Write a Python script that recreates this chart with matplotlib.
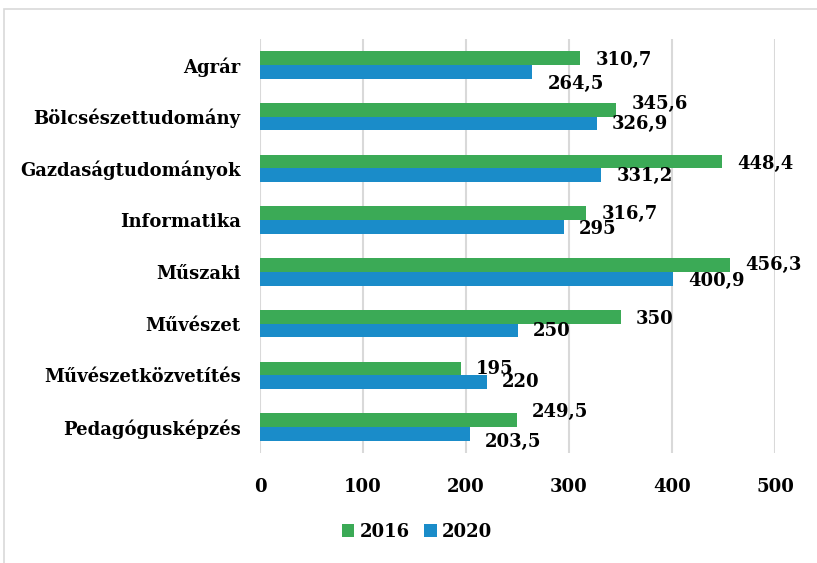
import matplotlib
matplotlib.use("Agg")
import matplotlib.pyplot as plt
import numpy as np
from matplotlib.patches import Rectangle

categories = ["Agrár", "Bölcsészettudomány", "Gazdaságtudományok", "Informatika",
              "Műszaki", "Művészet", "Művészetközvetítés", "Pedagógusképzés"]
values_2016 = [310.7, 345.6, 448.4, 316.7, 456.3, 350, 195, 249.5]
values_2020 = [264.5, 326.9, 331.2, 295, 400.9, 250, 220, 203.5]
labels_2016 = ["310,7", "345,6", "448,4", "316,7", "456,3", "350", "195", "249,5"]
labels_2020 = ["264,5", "326,9", "331,2", "295", "400,9", "250", "220", "203,5"]
xticks = [0, 100, 200, 300, 400, 500]

# label nudges (pixels, positive = down), the source labels were dragged by hand
dy_2016 = [2, -6, 2, 1, 0, 2, 0, -8]
dy_2020 = [12, 1, 1, 2, 2, 1, 0, 8]

GREEN = "#3BAA56"
BLUE = "#1A8CC9"
FONT = dict(family="DejaVu Serif", fontweight="bold", fontsize=13)

fig = plt.figure(figsize=(8.17, 5.63), dpi=100)
# light frame of the chart area (right and bottom edges run off the image)
fig.patches.append(Rectangle((4 / 817, -0.1), 1.2, 1 - 9 / 563 + 0.1,
                             transform=fig.transFigure, fill=False,
                             edgecolor="#d9d9d9", linewidth=1.2))
ax = fig.add_axes([260 / 817, 1 - 453 / 563, (775 - 260) / 817, (453 - 39) / 563])

y = np.arange(len(categories))
h = 0.265
ax.barh(y - h / 2, values_2016, height=h, color=GREEN, label="2016")
ax.barh(y + h / 2, values_2020, height=h, color=BLUE, label="2020")

for i in range(len(categories)):
    ax.annotate(labels_2016[i], (values_2016[i], y[i] - h / 2),
                xytext=(11, -dy_2016[i] * 0.72), textcoords="offset points",
                ha="left", va="center", **FONT)
    ax.annotate(labels_2020[i], (values_2020[i], y[i] + h / 2),
                xytext=(11, -dy_2020[i] * 0.72), textcoords="offset points",
                ha="left", va="center", **FONT)

ax.set_xlim(0, 500)
ax.set_ylim(len(categories) - 0.5, -0.5)
ax.set_xticks(xticks)
ax.set_xticklabels([str(t) for t in xticks], **FONT)
ax.set_yticks(y)
ax.set_yticklabels(categories, **FONT)
ax.tick_params(axis="x", length=0, pad=18)
ax.tick_params(axis="y", length=0, pad=14)
ax.grid(axis="x", color="#d9d9d9", linewidth=1.5)
ax.set_axisbelow(True)
for s in ax.spines.values():
    s.set_visible(False)

fig.legend(loc="center", bbox_to_anchor=(417 / 817, 1 - 532 / 563), ncol=2,
           frameon=False, prop=dict(family="DejaVu Serif", weight="bold", size=13),
           handlelength=0.7, handleheight=0.7, handletextpad=0.3, columnspacing=0.8)

fig.savefig("out.png", dpi=100)
